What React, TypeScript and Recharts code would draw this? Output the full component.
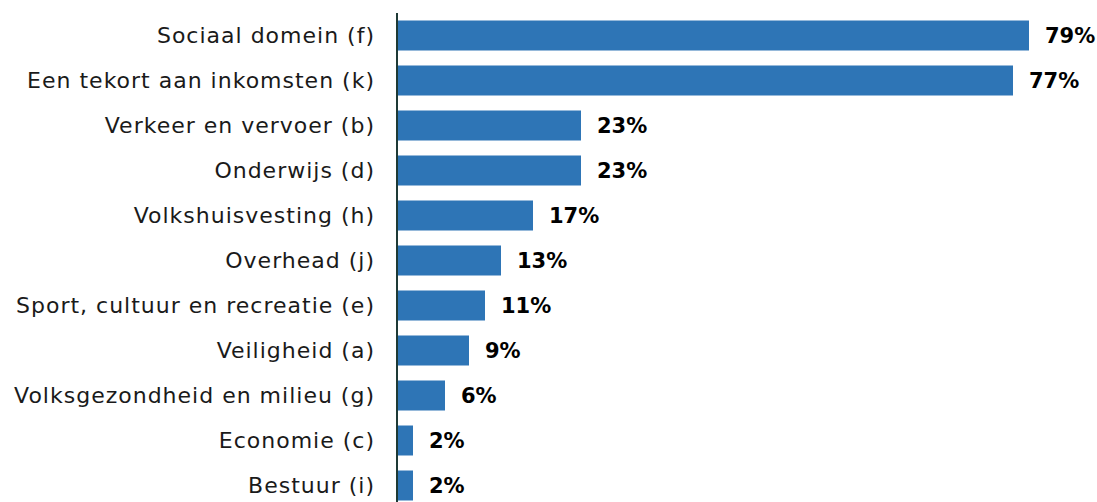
import React from "react";
import { BarChart, Bar, XAxis, YAxis, LabelList } from "recharts";

const categories = [
  "Sociaal domein (f)",
  "Een tekort aan inkomsten (k)",
  "Verkeer en vervoer (b)",
  "Onderwijs (d)",
  "Volkshuisvesting (h)",
  "Overhead (j)",
  "Sport, cultuur en recreatie (e)",
  "Veiligheid (a)",
  "Volksgezondheid en milieu (g)",
  "Economie (c)",
  "Bestuur (i)",
];
const values = [79, 77, 23, 23, 17, 13, 11, 9, 6, 2, 2];

const data = categories.map((c, i) => ({ name: c, value: values[i] }));

const FONT = "'DejaVu Sans', sans-serif";

export default function App() {
  return (
    <div
      style={{
        position: "absolute",
        top: 8,
        left: 8,
        width: 1089,
        height: 494,
        overflow: "hidden",
      }}
    >
      <BarChart
        width={1089}
        height={500}
        data={data}
        layout="vertical"
        margin={{ top: 5, right: 20, bottom: 0, left: 0 }}
        barCategoryGap="16.67%"
        style={{ overflow: "visible" }}
      >
        <XAxis type="number" domain={[0, 85]} hide />
        <YAxis
          type="category"
          dataKey="name"
          width={389}
          tickLine={false}
          axisLine={{ stroke: "#1e3a36", strokeWidth: 2 }}
          tickMargin={16}
          interval={0}
          tick={{ fill: "#1a1a1a", fontSize: 22, fontFamily: FONT, letterSpacing: 1 }}
        />
        <Bar dataKey="value" fill="#2e75b6" isAnimationActive={false}>
          <LabelList
            dataKey="value"
            position="right"
            offset={16}
            formatter={(v: number) => `${v}%`}
            style={{ fill: "#000", fontSize: 21, fontWeight: 700, fontFamily: FONT }}
          />
        </Bar>
      </BarChart>
    </div>
  );
}
